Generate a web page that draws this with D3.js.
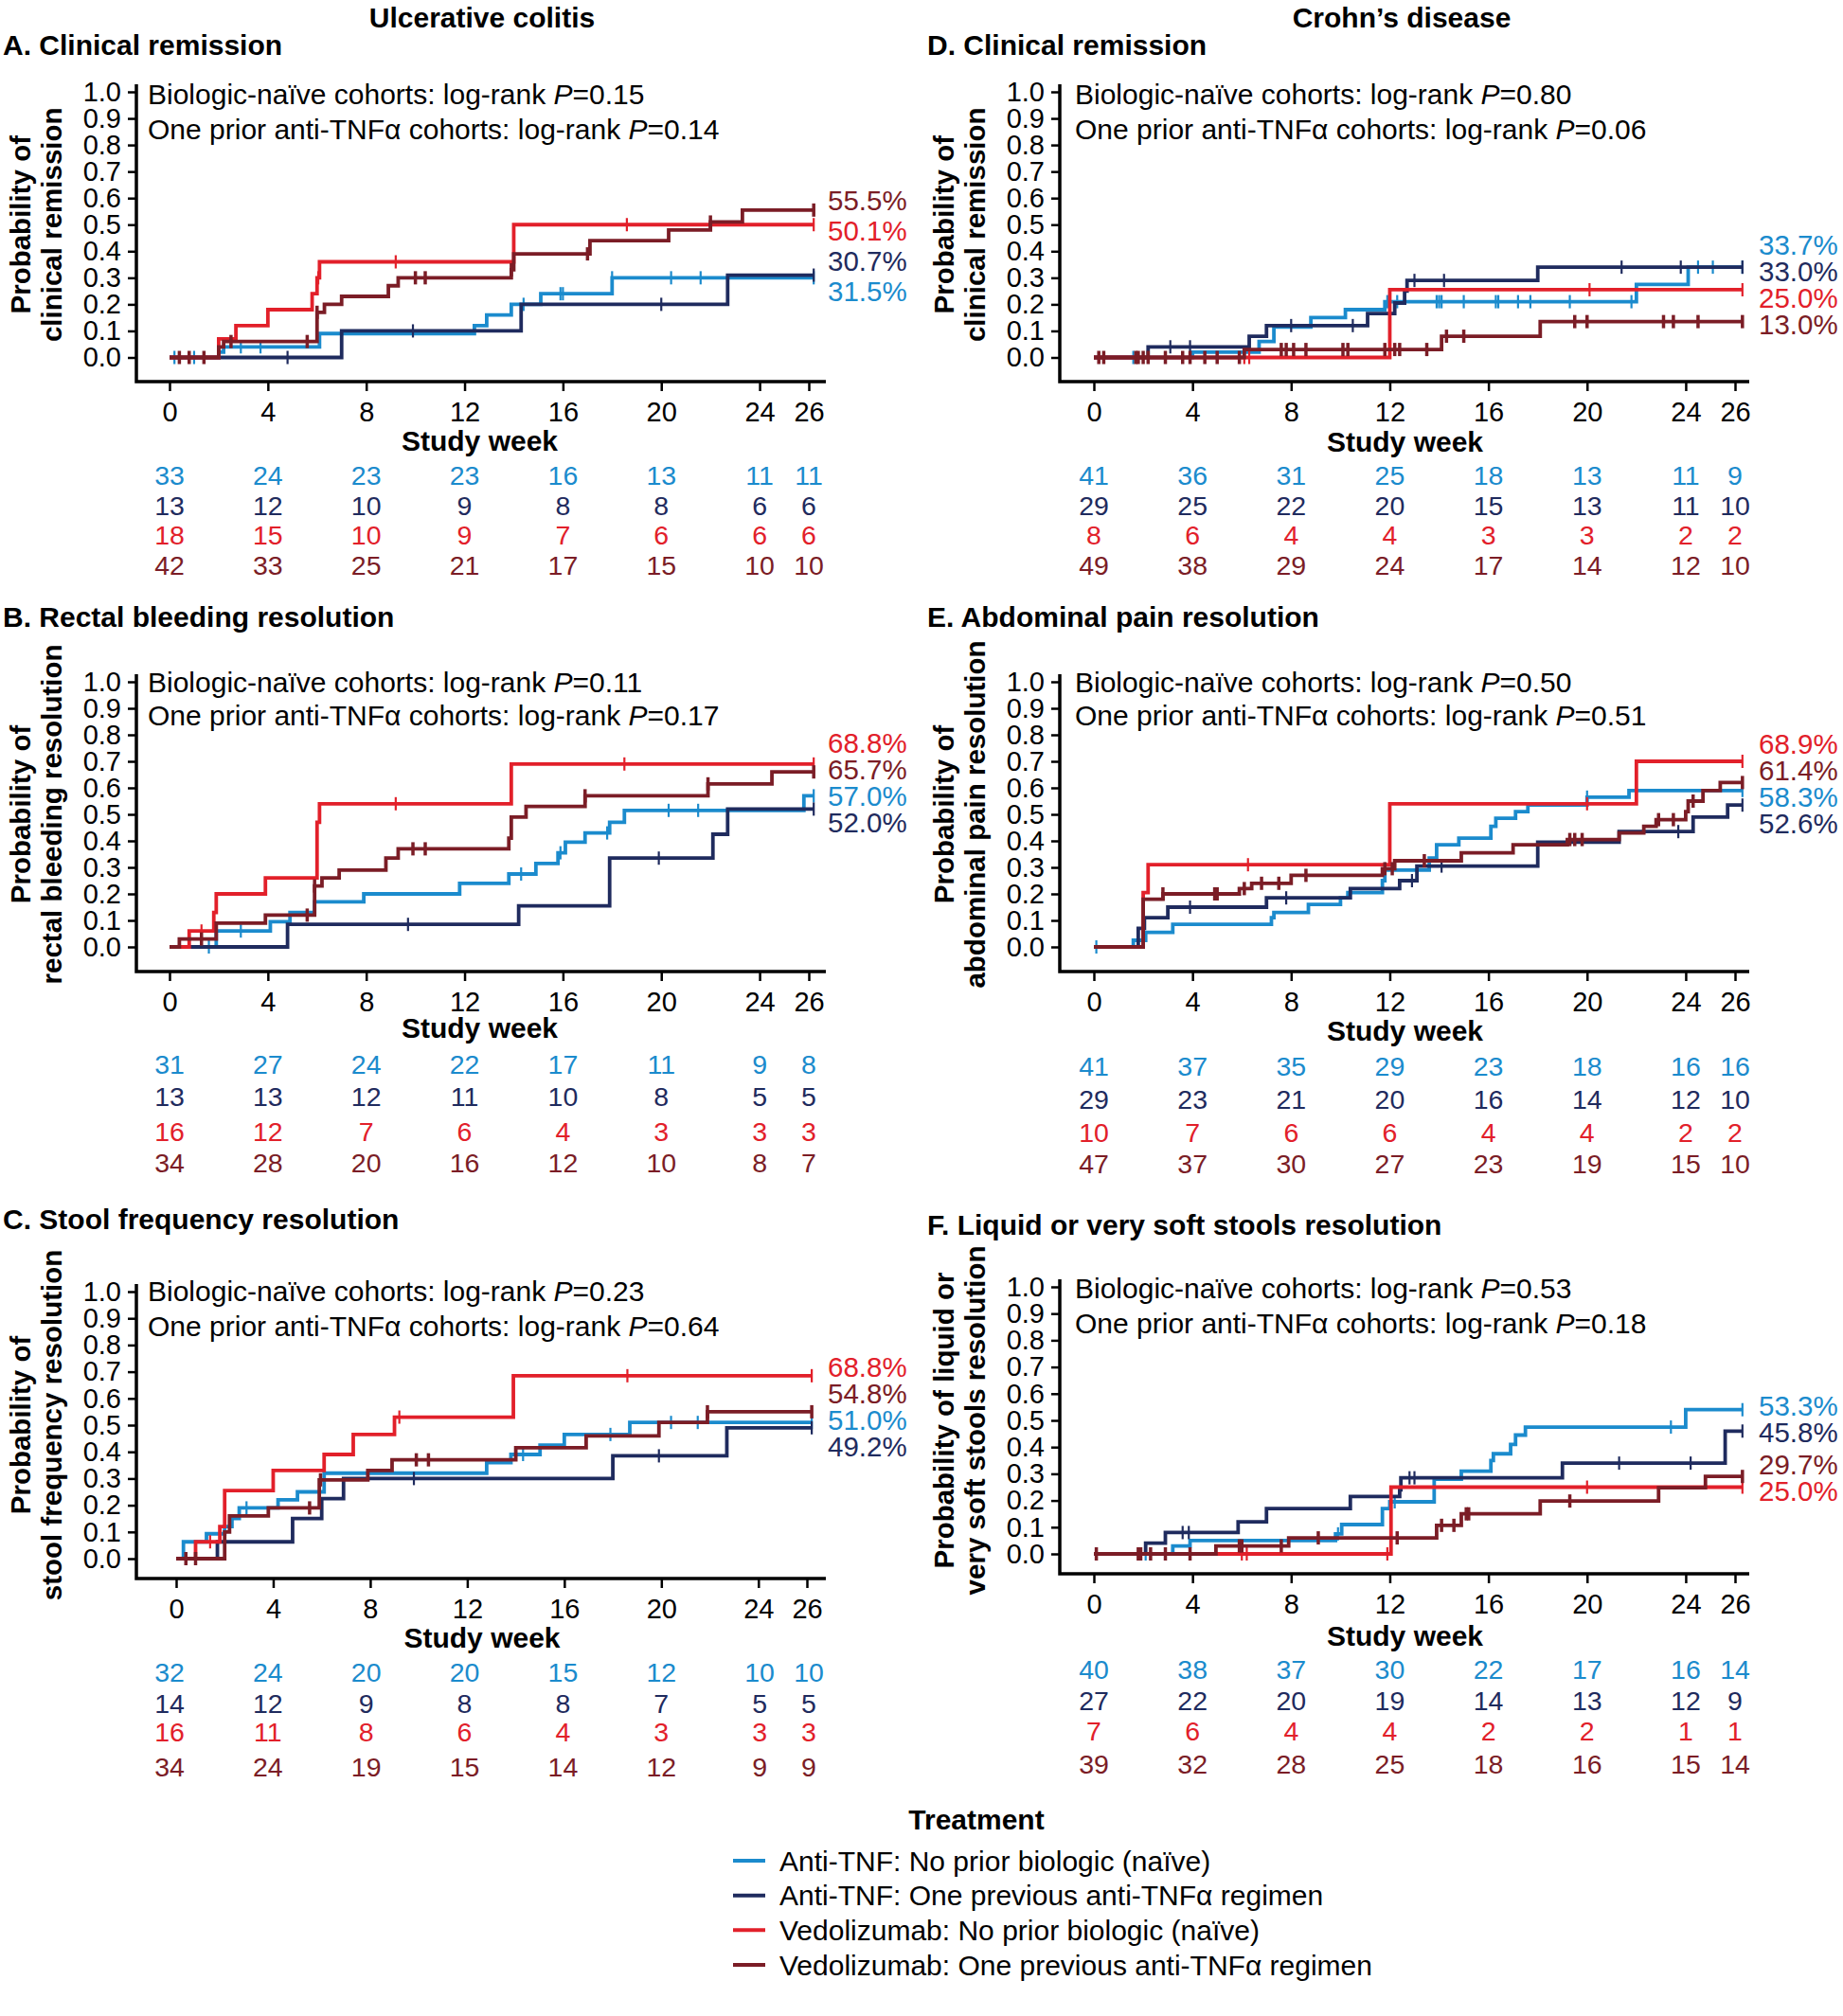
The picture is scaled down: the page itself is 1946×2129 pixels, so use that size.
<!DOCTYPE html>
<html>
<head>
<meta charset="utf-8">
<script src="https://cdn.jsdelivr.net/npm/d3@7"></script>
<style>
  body { margin: 0; background: #fff; }
  svg text { font-family: "Liberation Sans", Arial, sans-serif; }
</style>
</head>
<body>
<script>
// series order everywhere: anti-TNF naive, anti-TNF prior, vedolizumab naive, vedolizumab prior
const seriesNames = [
  "Anti-TNF: No prior biologic (naïve)",
  "Anti-TNF: One previous anti-TNFα regimen",
  "Vedolizumab: No prior biologic (naïve)",
  "Vedolizumab: One previous anti-TNFα regimen"
];
const colors = ["#1b8bcd", "#1f2b5e", "#e2202a", "#7b1d26"];
const weekTicks = [0, 4, 8, 12, 16, 20, 24, 26];
const probTicks = [0, 0.1, 0.2, 0.3, 0.4, 0.5, 0.6, 0.7, 0.8, 0.9, 1.0];

// ---- A. UC clinical remission ----
const stepsA = [
  [[0,0],[2.0,0.02],[2.2,0.04],[6.1,0.09],[12.4,0.12],[12.9,0.16],[13.9,0.20],[15.1,0.24],[18.0,0.30]],
  [[0,0],[7.0,0.10],[14.3,0.20],[22.7,0.31]],
  [[0,0],[2.0,0.07],[2.7,0.12],[4.0,0.18],[5.8,0.24],[6.0,0.30],[6.1,0.36],[14.0,0.50]],
  [[0,0],[2.0,0.04],[2.2,0.06],[6.0,0.17],[6.3,0.20],[7.0,0.23],[8.9,0.27],[9.3,0.30],[13.9,0.33],[14.0,0.39],[17.1,0.44],[20.3,0.48],[22.0,0.51],[23.3,0.555]]
];
const censA = [
  [0.2,1.0,2.9,3.7,14.4,15.9,16.0,18.0,20.4,21.6,26.2],
  [4.8,9.9,20.0,26.2],
  [6.05,9.2,18.6,26.2],
  [0.4,0.8,1.4,2.5,5.6,6.0,10.0,10.4,13.9,17.0,22.0,26.2]
];
const riskA = [[33,24,23,23,16,13,11,11],[13,12,10,9,8,8,6,6],[18,15,10,9,7,6,6,6],[42,33,25,21,17,15,10,10]];
const endA = [[3,55.5],[2,50.1],[1,30.7],[0,31.5]];
const pA = ["0.15", "0.14"];

// ---- B. UC rectal bleeding resolution ----
const stepsB = [
  [[0,0],[1.9,0.06],[4.1,0.095],[4.9,0.13],[5.9,0.17],[7.9,0.20],[11.8,0.24],[13.8,0.275],[14.9,0.315],[15.8,0.355],[16.1,0.395],[16.9,0.43],[17.9,0.47],[18.5,0.515],[25.8,0.57]],
  [[0,0],[4.8,0.085],[14.2,0.155],[17.9,0.335],[22.1,0.425],[22.7,0.52]],
  [[0,0],[0.8,0.06],[1.8,0.13],[1.9,0.20],[3.9,0.26],[6.0,0.47],[6.1,0.54],[13.9,0.69]],
  [[0,0],[0.4,0.03],[1.9,0.09],[3.9,0.12],[5.9,0.23],[6.2,0.26],[6.9,0.29],[8.8,0.335],[9.3,0.37],[13.8,0.41],[13.9,0.49],[14.5,0.53],[16.9,0.57],[21.9,0.615],[24.5,0.66]]
];
const censB = [
  [1.6,2.9,14.3,15.9,17.8,20.3,21.5,26.2],
  [9.7,19.9,26.2],
  [1.3,9.2,18.5,26.2],
  [1.3,5.6,5.9,9.9,10.4,16.9,21.9,26.2]
];
const riskB = [[31,27,24,22,17,11,9,8],[13,13,12,11,10,8,5,5],[16,12,7,6,4,3,3,3],[34,28,20,16,12,10,8,7]];
const endB = [[2,68.8],[3,65.7],[0,57.0],[1,52.0]];
const pB = ["0.11", "0.17"];

// ---- C. UC stool frequency resolution ----
const stepsC = [
  [[0,0],[0.3,0.063],[1.25,0.093],[2.0,0.12],[2.3,0.15],[2.6,0.19],[4.2,0.22],[5.0,0.25],[6.1,0.32],[12.8,0.36],[13.8,0.39],[15.0,0.425],[16.0,0.465],[18.7,0.51]],
  [[0,0],[1.7,0.063],[4.8,0.15],[6.0,0.225],[6.9,0.30],[18.0,0.385],[22.7,0.49]],
  [[0,0],[0.8,0.063],[1.8,0.12],[2.0,0.255],[4.0,0.33],[6.1,0.39],[7.3,0.465],[9.0,0.53],[13.9,0.685]],
  [[0,0],[2.0,0.10],[2.2,0.16],[3.8,0.19],[5.9,0.295],[7.9,0.33],[8.9,0.37],[14.0,0.415],[16.9,0.46],[19.9,0.51],[21.9,0.55]]
];
const censC = [
  [2.9,14.3,17.9,20.4,21.5,26.2],
  [9.8,19.9,26.2],
  [1.4,9.2,18.6,26.2],
  [0.4,0.8,5.5,5.95,9.9,10.4,21.9,26.2]
];
const riskC = [[32,24,20,20,15,12,10,10],[14,12,9,8,8,7,5,5],[16,11,8,6,4,3,3,3],[34,24,19,15,14,12,9,9]];
const endC = [[2,68.8],[3,54.8],[0,51.0],[1,49.2]];
const pC = ["0.23", "0.64"];

// ---- D. CD clinical remission ----
const stepsD = [
  [[0,0],[4.0,0.02],[6.7,0.06],[7.3,0.115],[8.8,0.15],[10.2,0.18],[11.8,0.21],[22.0,0.275],[24.1,0.34]],
  [[0,0],[2.2,0.04],[6.3,0.08],[7.0,0.12],[11.1,0.165],[12.2,0.205],[12.6,0.25],[12.7,0.29],[18.0,0.34]],
  [[0,0],[12.0,0.255]],
  [[0,0],[6.1,0.03],[14.1,0.08],[18.1,0.135]]
];
const censD = [
  [1.6,11.9,12.3,13.9,14.0,14.1,15.0,16.3,16.4,17.2,17.7,19.3,21.8,24.5,25.1,26.3],
  [3.1,3.9,8.0,10.5,13.0,14.2,21.4,23.8,26.3],
  [6.1,6.3,20.1,26.3],
  [0.2,0.4,1.7,1.8,2.0,2.2,2.9,3.6,3.9,4.5,5.0,5.9,7.6,7.8,8.1,8.6,10.1,10.3,11.8,12.2,12.4,13.5,14.3,15.0,19.5,20.0,23.1,23.5,24.5,26.3]
];
const riskD = [[41,36,31,25,18,13,11,9],[29,25,22,20,15,13,11,10],[8,6,4,4,3,3,2,2],[49,38,29,24,17,14,12,10]];
const endD = [[0,33.7],[1,33.0],[2,25.0],[3,13.0]];
const pD = ["0.80", "0.06"];

// ---- E. CD abdominal pain resolution ----
const stepsE = [
  [[0,0],[1.6,0.025],[2.1,0.055],[3.2,0.085],[7.2,0.11],[7.3,0.13],[8.7,0.16],[10.0,0.185],[10.3,0.205],[11.7,0.25],[11.8,0.29],[13.6,0.335],[13.9,0.385],[14.8,0.41],[16.1,0.455],[16.3,0.485],[17.1,0.51],[17.6,0.535],[20.0,0.565],[21.7,0.59]],
  [[0,0],[1.8,0.07],[2.05,0.11],[3.0,0.15],[7.0,0.185],[10.4,0.22],[12.4,0.25],[13.1,0.305],[18.0,0.395],[21.3,0.435],[24.3,0.49],[25.7,0.535]],
  [[0,0],[2.0,0.205],[2.2,0.31],[12.0,0.54],[22.0,0.70]],
  [[0,0],[2.0,0.18],[2.8,0.20],[5.9,0.22],[6.4,0.24],[8.0,0.27],[11.7,0.295],[12.2,0.325],[14.9,0.355],[17.0,0.385],[19.2,0.405],[21.3,0.43],[22.3,0.455],[22.8,0.48],[24.0,0.51],[24.1,0.55],[24.7,0.59],[25.4,0.62]]
];
const censE = [
  [0.1,20.0,26.3],
  [3.9,7.8,12.9,14.1,23.7,26.3],
  [6.25,20.0,26.3],
  [2.8,4.9,5.0,6.1,6.8,7.5,8.6,11.8,12.1,13.4,19.3,19.5,19.8,22.9,23.5,24.3,26.3]
];
const riskE = [[41,37,35,29,23,18,16,16],[29,23,21,20,16,14,12,10],[10,7,6,6,4,4,2,2],[47,37,30,27,23,19,15,10]];
const endE = [[2,68.9],[3,61.4],[0,58.3],[1,52.6]];
const pE = ["0.50", "0.51"];

// ---- F. CD liquid or very soft stools resolution ----
const stepsF = [
  [[0,0],[3.2,0.03],[3.9,0.05],[9.8,0.075],[10.05,0.11],[11.7,0.17],[12.0,0.195],[13.8,0.28],[14.9,0.31],[16.1,0.35],[16.2,0.375],[16.9,0.41],[17.1,0.445],[17.5,0.475],[24.0,0.54]],
  [[0,0],[2.1,0.04],[2.9,0.08],[5.85,0.12],[7.0,0.17],[10.4,0.215],[12.4,0.24],[12.45,0.285],[19.0,0.34],[25.6,0.46]],
  [[0,0],[12.05,0.25]],
  [[0,0],[4.95,0.03],[7.9,0.06],[13.9,0.107],[14.9,0.15],[18.1,0.198],[22.9,0.248],[24.8,0.29]]
];
const censF = [
  [2.1,9.9,12.2,23.4,26.3],
  [3.6,3.85,12.8,13.0,21.3,24.2,26.3],
  [6.0,6.2,11.9,20.0,26.3],
  [0.1,1.8,1.9,2.3,2.9,3.9,5.9,6.0,7.6,9.1,12.3,14.1,14.6,15.1,15.2,19.3,26.3]
];
const riskF = [[40,38,37,30,22,17,16,14],[27,22,20,19,14,13,12,9],[7,6,4,4,2,2,1,1],[39,32,28,25,18,16,15,14]];
const endF = [[0,53.3],[1,45.8],[3,29.7],[2,25.0]];
const pF = ["0.53", "0.18"];

// ---- layout ----
const cols = [
  {axisX: 144, x0: 179, x26: 854, titleX: 3, labelX: 874, annX: 156, headX: 509, head: "Ulcerative colitis"},
  {axisX: 1119, x0: 1155, x26: 1832, titleX: 979, labelX: 1857, annX: 1135, headX: 1480, head: "Crohn’s disease"}
];

const panels = [
  {col: 0, title: "A. Clinical remission", ylab: ["Probability of", "clinical remission"],
   steps: stepsA, cens: censA, risk: riskA, ends: endA, p: pA, gap: 32, lift: 0,
   y1: 97, y0: 377.5, axisY: 403, swY: 465, riskY: [502, 534, 565, 597], titleY: 47, annY: [99, 136]},
  {col: 0, title: "B. Rectal bleeding resolution", ylab: ["Probability of", "rectal bleeding resolution"],
   steps: stepsB, cens: censB, risk: riskB, ends: endB, p: pB,
   y1: 720, y0: 1000, axisY: 1026, swY: 1085, riskY: [1124, 1158, 1195, 1228], titleY: 651, annY: [720, 755]},
  {col: 0, title: "C. Stool frequency resolution", ylab: ["Probability of", "stool frequency resolution"],
   steps: stepsC, cens: censC, risk: riskC, ends: endC, p: pC, x0: 186, x26: 852,
   y1: 1364, y0: 1646, axisY: 1667, swY: 1729, riskY: [1766, 1799, 1829, 1866], titleY: 1287, annY: [1363, 1400]},
  {col: 1, title: "D. Clinical remission", ylab: ["Probability of", "clinical remission"],
   steps: stepsD, cens: censD, risk: riskD, ends: endD, p: pD,
   y1: 97, y0: 377.5, axisY: 403, swY: 466, riskY: [502, 534, 565, 597], titleY: 47, annY: [99, 136]},
  {col: 1, title: "E. Abdominal pain resolution", ylab: ["Probability of", "abdominal pain resolution"],
   steps: stepsE, cens: censE, risk: riskE, ends: endE, p: pE,
   y1: 720, y0: 1000, axisY: 1026, swY: 1088, riskY: [1126, 1161, 1196, 1229], titleY: 651, annY: [720, 755]},
  {col: 1, title: "F. Liquid or very soft stools resolution", ylab: ["Probability of liquid or", "very soft stools resolution"],
   steps: stepsF, cens: censF, risk: riskF, ends: endF, p: pF,
   y1: 1359, y0: 1641, axisY: 1662, swY: 1727, riskY: [1763, 1796, 1828, 1863], titleY: 1293, annY: [1360, 1397]}
];

const svg = d3.select("body").append("svg")
  .attr("width", 1946)
  .attr("height", 2129);

// column headings
cols.forEach(c => {
  svg.append("text")
    .attr("x", c.headX).attr("y", 18).attr("dy", "0.35em")
    .attr("text-anchor", "middle")
    .attr("font-size", 30).attr("font-weight", "bold")
    .text(c.head);
});

// push end labels apart so they don't overlap, keeping clusters centred
function spread(ys, gap) {
  let cl = [];
  ys.forEach((yv, i) => {
    cl.push({idx: [i], sum: yv});
    while (cl.length > 1) {
      const b = cl[cl.length - 1], a = cl[cl.length - 2];
      const aTop = a.sum / a.idx.length - (a.idx.length - 1) * gap / 2;
      const aBot = aTop + (a.idx.length - 1) * gap;
      const bTop = b.sum / b.idx.length - (b.idx.length - 1) * gap / 2;
      if (bTop - aBot < gap) {
        a.idx = a.idx.concat(b.idx);
        a.sum += b.sum;
        cl.pop();
      } else break;
    }
  });
  const out = [];
  cl.forEach(c => {
    const top = c.sum / c.idx.length - (c.idx.length - 1) * gap / 2;
    c.idx.forEach((i, k) => out[i] = top + k * gap);
  });
  return out;
}

panels.forEach(p => {
  const c = cols[p.col];
  const x = d3.scaleLinear().domain([0, 26]).range([p.x0 || c.x0, p.x26 || c.x26]);
  const xr = d3.scaleLinear().domain([0, 26]).range([c.x0, c.x26]); // risk table columns
  const y = d3.scaleLinear().domain([0, 1]).range([p.y0, p.y1]);
  const g = svg.append("g");

  // panel title
  g.append("text")
    .attr("x", c.titleX).attr("y", p.titleY).attr("dy", "0.35em")
    .attr("font-size", 30).attr("font-weight", "bold")
    .text(p.title);

  // axes (ticks from d3, heavy L-shaped frame drawn separately)
  const xa = g.append("g")
    .attr("transform", `translate(0,${p.axisY})`)
    .call(d3.axisBottom(x).tickValues(weekTicks).tickSize(10).tickPadding(11));
  xa.select(".domain").remove();
  xa.attr("font-size", 29).attr("font-family", null);
  xa.selectAll("line").attr("stroke-width", 2.5);
  xa.selectAll("text").attr("fill", "#000");

  const ya = g.append("g")
    .attr("transform", `translate(${c.axisX},0)`)
    .call(d3.axisLeft(y).tickValues(probTicks).tickFormat(d3.format(".1f")).tickSize(9).tickPadding(7));
  ya.select(".domain").remove();
  ya.attr("font-size", 29).attr("font-family", null);
  ya.selectAll("line").attr("stroke-width", 2.5);
  ya.selectAll("text").attr("fill", "#000");

  g.append("path")
    .attr("d", `M${c.axisX},${y(1) - 8}V${p.axisY}H${c.axisX + 728}`)
    .attr("fill", "none")
    .attr("stroke", "#000")
    .attr("stroke-width", 3.5);

  // y axis title
  p.ylab.forEach((t, k) => {
    g.append("text")
      .attr("transform", `translate(${c.axisX - 112 + k * 33},${y(0.5)}) rotate(-90)`)
      .attr("text-anchor", "middle")
      .attr("font-size", 29.5).attr("font-weight", "bold")
      .text(t);
  });

  // log-rank annotations
  const ann = [["Biologic-naïve cohorts: log-rank ", p.p[0]], ["One prior anti-TNFα cohorts: log-rank ", p.p[1]]];
  ann.forEach((a, k) => {
    const t = g.append("text")
      .attr("x", c.annX).attr("y", p.annY[k]).attr("dy", "0.35em")
      .attr("font-size", 30);
    t.append("tspan").text(a[0]);
    t.append("tspan").attr("font-style", "italic").text("P");
    t.append("tspan").text("=" + a[1]);
  });

  // KM step curves and censor marks
  const line = d3.line().x(d => x(d[0])).y(d => y(d[1])).curve(d3.curveStepAfter);
  p.steps.forEach((s, i) => {
    const endT = d3.max(p.cens[i]);
    const pts = s.concat([[endT, s[s.length - 1][1]]]);
    g.append("path")
      .attr("d", line(pts))
      .attr("fill", "none")
      .attr("stroke", colors[i])
      .attr("stroke-width", 3.8);

    const valAt = t => {
      let v = 0;
      s.forEach(d => { if (d[0] <= t) v = d[1]; });
      return v;
    };
    g.selectAll(null)
      .data(p.cens[i])
      .join("line")
      .attr("x1", d => x(d)).attr("x2", d => x(d))
      .attr("y1", d => y(valAt(d)) - 7).attr("y2", d => y(valAt(d)) + 7)
      .attr("stroke", colors[i])
      .attr("stroke-width", i === 3 ? 3.5 : 2.2);
  });

  // end-of-curve percentages
  const ly = spread(p.ends.map(e => y(e[1] / 100)), p.gap || 28);
  const lift = p.lift === undefined ? 3 : p.lift;
  p.ends.forEach((e, k) => {
    g.append("text")
      .attr("x", c.labelX).attr("y", ly[k] - lift).attr("dy", "0.35em")
      .attr("font-size", 29.5)
      .attr("fill", colors[e[0]])
      .text(e[1].toFixed(1) + "%");
  });

  // x axis title
  g.append("text")
    .attr("x", (x(0) + x(26)) / 2 - 10).attr("y", p.swY).attr("dy", "0.35em")
    .attr("text-anchor", "middle")
    .attr("font-size", 30).attr("font-weight", "bold")
    .text("Study week");

  // numbers at risk
  p.risk.forEach((row, r) => {
    g.selectAll(null)
      .data(row)
      .join("text")
      .attr("x", (d, k) => xr(weekTicks[k]))
      .attr("y", p.riskY[r]).attr("dy", "0.35em")
      .attr("text-anchor", "middle")
      .attr("font-size", 28.5)
      .attr("fill", colors[r])
      .text(d => d);
  });
});

// legend
const leg = svg.append("g");
leg.append("text")
  .attr("x", 1031).attr("y", 1921).attr("dy", "0.35em")
  .attr("text-anchor", "middle")
  .attr("font-size", 30).attr("font-weight", "bold")
  .text("Treatment");
const legY = d3.scaleLinear().domain([0, 3]).range([1965, 2075]);
seriesNames.forEach((n, i) => {
  leg.append("line")
    .attr("x1", 774).attr("x2", 808)
    .attr("y1", legY(i)).attr("y2", legY(i))
    .attr("stroke", colors[i]).attr("stroke-width", 4);
  leg.append("text")
    .attr("x", 823).attr("y", legY(i)).attr("dy", "0.35em")
    .attr("font-size", 30)
    .text(n);
});
</script>
</body>
</html>
